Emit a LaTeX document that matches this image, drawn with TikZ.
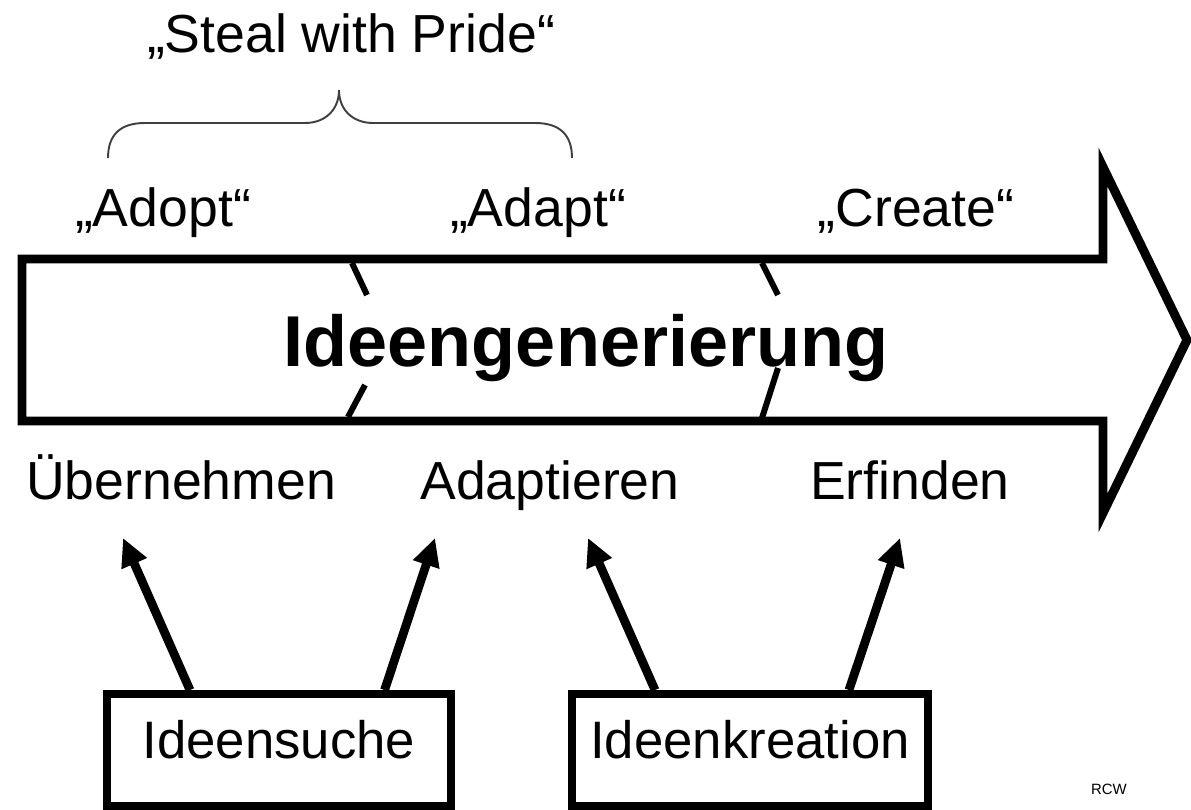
\documentclass[tikz,border=0pt]{standalone}
\usepackage{fontspec}
\setmainfont{Liberation Sans}
\usetikzlibrary{arrows.meta,calc}
\begin{document}
\begin{tikzpicture}[x=0.02cm,y=-0.02cm]
\tikzset{etiquette/.style={font=\fontsize{30.5}{32}\selectfont, inner sep=0pt, anchor=base}}
\tikzset{boite/.style={draw, line width=4.5pt, minimum width=6.88cm, minimum height=2.24cm, inner sep=0pt, text depth=0.44cm, font=\fontsize{30}{32}\selectfont}}
\tikzset{fleche/.style={line width=5pt, -{Triangle[length=0.56cm,width=0.52cm]}}}
\tikzset{trait/.style={line width=3.4pt}}
\useasboundingbox (0,0) rectangle (1191,810);
% grosse fleche
\draw[line width=5.1pt, miter limit=20] (22,259) -- (1103,259) -- (1103,167) -- (1187,340) -- (1103,513) -- (1103,421) -- (22,421) -- cycle;
\draw[trait] (352,263) -- (367,295);
\draw[trait] (365,385) -- (348,417);
\draw[trait] (762,263) -- (778,295);
\draw[trait] (778,368) -- (762,418);
\node[font=\bfseries\fontsize{41}{43}\selectfont, inner sep=0pt, anchor=base] (titre) at (586,367) {Ideengenerierung};
% etiquettes
\node[etiquette] (steal) at (351,53) {„Steal with Pride“};
\node[etiquette] (adopt) at (163,227) {„Adopt“};
\node[etiquette] (adapt) at (538,227) {„Adapt“};
\node[etiquette] (create) at (916,227) {„Create“};
\node[etiquette] (uebern) at (181,500) {Übernehmen};
\node[etiquette] (adapti) at (550,500) {Adaptieren};
\node[etiquette] (erfind) at (910,500) {Erfinden};
% accolade
\draw[line width=1.1pt, black!75] (108,158) .. controls (108,135) and (120,123) .. (145,123) -- (305,123) .. controls (325,123) and (339,110) .. (339,90)
  .. controls (339,110) and (353,123) .. (373,123) -- (535,123) .. controls (560,123) and (572,135) .. (572,158);
% boites
\node[boite] (suche) at (279,750) {Ideensuche};
\node[boite, minimum width=7.12cm] (kreation) at (750,750) {Ideenkreation};
\coordinate (p1) at (123,538);
\coordinate (p2) at (435,538);
\coordinate (p3) at (588,538);
\coordinate (p4) at (900,538);
\draw[fleche] ($(suche.north west)!.247!(suche.north east)$) -- (p1);
\draw[fleche] ($(suche.north west)!.80!(suche.north east)$) -- (p2);
\draw[fleche] ($(kreation.north west)!.239!(kreation.north east)$) -- (p3);
\draw[fleche] ($(kreation.north west)!.772!(kreation.north east)$) -- (p4);
\node[font=\fontsize{8.5}{9}\selectfont, anchor=base] (rcw) at (1109,795) {RCW};
\end{tikzpicture}
\end{document}
